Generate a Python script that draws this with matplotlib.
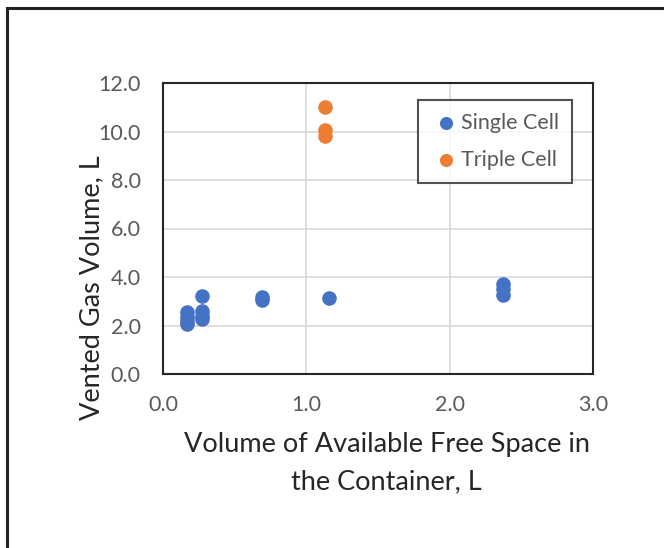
import matplotlib
matplotlib.use("Agg")
import matplotlib.pyplot as plt
from matplotlib.lines import Line2D

# Vented gas volume vs free space available in the container
single_x = [0.17, 0.17, 0.17, 0.17, 0.27, 0.27, 0.27, 0.27, 0.69, 0.69, 1.16, 2.37, 2.37, 2.37]
single_y = [2.05, 2.2, 2.35, 2.55, 3.22, 2.6, 2.4, 2.25, 3.05, 3.17, 3.15, 3.7, 3.5, 3.25]
triple_x = [1.13, 1.13, 1.13]
triple_y = [11.0, 10.05, 9.8]

x_ticks = [0.0, 1.0, 2.0, 3.0]
y_ticks = [0.0, 2.0, 4.0, 6.0, 8.0, 10.0, 12.0]

plt.rcParams['font.family'] = ['Lato', 'DejaVu Sans']

fig = plt.figure(figsize=(6.64, 5.48), dpi=100)
W, H = 664, 548

# outer frame (left and top edges visible)
fig.add_artist(Line2D([7 / W, 7 / W], [0, 1 - 8 / H], transform=fig.transFigure,
                      color='#222222', lw=2.2))
fig.add_artist(Line2D([7 / W, 1], [1 - 8 / H, 1 - 8 / H], transform=fig.transFigure,
                      color='#222222', lw=2.2))

ax = fig.add_axes([163 / W, 1 - 374 / H, (593 - 163) / W, (374 - 83) / H])
ax.set_xlim(0, 3)
ax.set_ylim(0, 12)
ax.set_xticks(x_ticks)
ax.set_yticks(y_ticks)
ax.set_xticklabels([f"{v:.1f}" for v in x_ticks])
ax.set_yticklabels([f"{v:.1f}" for v in y_ticks])
ax.grid(True, color='#d9d9d9', lw=1.2)
ax.set_axisbelow(True)
for s in ax.spines.values():
    s.set_color('#262626')
    s.set_linewidth(1.5)
ax.tick_params(length=0, labelsize=15.5, labelcolor='#595959')
ax.tick_params(axis='y', pad=16)
ax.tick_params(axis='x', pad=15)

ax.scatter(single_x, single_y, s=110, color='#4472c4', label='Single Cell', zorder=3, linewidths=0)
ax.scatter(triple_x, triple_y, s=110, color='#ed7d31', label='Triple Cell', zorder=3, linewidths=0)

leg = ax.legend(loc='upper right', bbox_to_anchor=((572 - 163) / (593 - 163), (374 - 100) / (374 - 83)),
                fontsize=15.5, frameon=True, fancybox=False, handletextpad=0.0,
                borderpad=0.6, labelspacing=0.8, handlelength=1.4, markerscale=0.9,
                borderaxespad=0)
leg.get_frame().set_edgecolor('#262626')
leg.get_frame().set_linewidth(1.5)
for t in leg.get_texts():
    t.set_color('#595959')

ax.set_xlabel("Volume of Available Free Space in\nthe Container, L", fontsize=19.5,
              color='#262626', linespacing=1.6)
ax.xaxis.set_label_coords(0.52, -0.20)
ax.set_ylabel("Vented Gas Volume, L", fontsize=19.5, color='#262626')
ax.yaxis.set_label_coords(-0.137, 0.295)

fig.savefig("out.png", dpi=100)
